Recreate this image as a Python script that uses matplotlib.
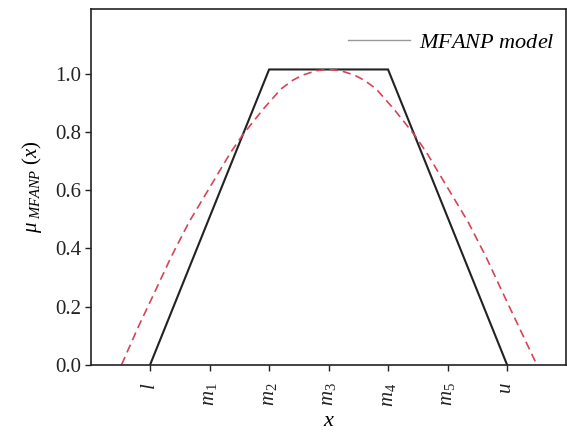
import numpy as np
import matplotlib
matplotlib.use("Agg")
import matplotlib.pyplot as plt
from matplotlib import font_manager
from matplotlib.lines import Line2D

# fail loudly if the Times-like serif is missing
font_manager.findfont("Liberation Serif", fallback_to_default=False)

plt.rcParams["font.family"] = ["Liberation Serif", "DejaVu Serif"]
plt.rcParams["mathtext.fontset"] = "custom"
plt.rcParams["mathtext.rm"] = "Liberation Serif"
plt.rcParams["mathtext.it"] = "Liberation Serif:italic"

# tick positions and their symbolic labels
tick_pos = [1, 2, 3, 4, 5, 6, 7]
tick_labels = [r"$l$", r"$m_1$", r"$m_2$", r"$m_3$", r"$m_4$", r"$m_5$", r"$u$"]

# trapezoidal membership function (l, m2, m4, u)
trap_x = [1, 3, 5, 7]
trap_y = [0.0, 1.017, 1.017, 0.0]

# smooth membership curve (red dashed)
curve_x = [0.52, 0.80, 1.10, 1.35, 1.65, 2.00, 2.35, 2.55, 2.90, 3.20, 3.40, 3.57, 3.80, 4.00,
           4.20, 4.43, 4.60, 4.80, 5.10, 5.45, 5.65, 6.00, 6.35, 6.65, 6.90, 7.20, 7.50]
curve_y = [0.0, 0.13, 0.26, 0.37, 0.49, 0.61, 0.73, 0.79, 0.88, 0.95, 0.98, 0.998, 1.013, 1.017,
           1.013, 0.998, 0.98, 0.95, 0.88, 0.79, 0.73, 0.61, 0.49, 0.37, 0.26, 0.13, 0.0]

fig = plt.figure(figsize=(5.67, 4.34), dpi=100)
ax = fig.add_axes([0.160, 0.160, 0.839, 0.819])

ax.plot(trap_x, trap_y, color="#222222", lw=1.5, solid_joinstyle="miter")
ax.plot(curve_x, curve_y, color="#d6445a", lw=1.2, dashes=(5, 3))

ax.set_xlim(0, 8)
ax.set_ylim(0, 1.225)
ax.set_xticks(tick_pos)
ax.set_xticklabels(tick_labels, rotation=90, fontsize=15)
ax.set_yticks([0.0, 0.2, 0.4, 0.6, 0.8, 1.0])
ax.set_yticklabels(["0.0", "0.2", "0.4", "0.6", "0.8", "1.0"], fontsize=15)
ax.tick_params(direction="out", length=4, width=1, colors="#222222", pad=3)
ax.tick_params(axis="x", pad=9)

for s in ax.spines.values():
    s.set_linewidth(1.2)
    s.set_color("#222222")

ax.set_xlabel(r"$x$", fontsize=16, labelpad=4)
ax.set_ylabel(r"$\mu_{\ MFANP}\ (x)$", fontsize=15, labelpad=8)

handle = Line2D([], [], color="#999999", lw=1)
ax.legend([handle], [r"$MFANP\ model$"], loc="upper right", frameon=False,
          fontsize=16, handlelength=2.8, handletextpad=0.4,
          bbox_to_anchor=(1.018, 0.99))

fig.savefig("out.png", dpi=100)
